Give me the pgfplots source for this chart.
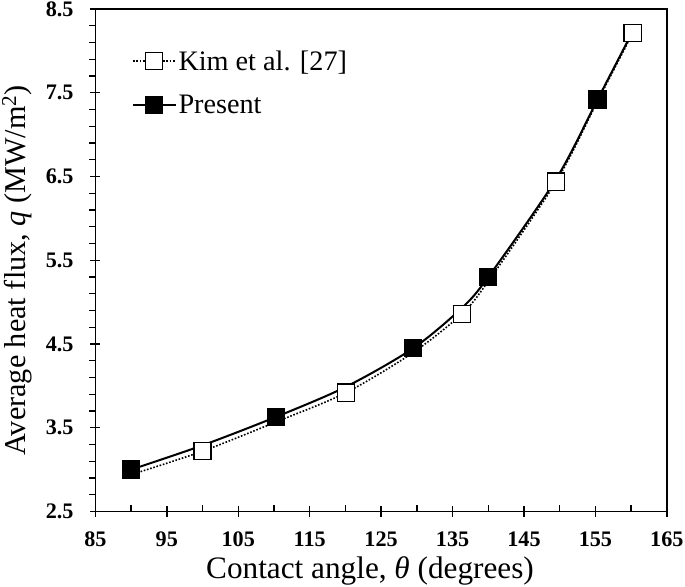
\documentclass[border=0pt]{standalone}
\usepackage{pgfplots}
\pgfplotsset{compat=1.18}
\usepackage{fontspec}
\setmainfont{Liberation Serif}
\begin{document}
\begin{tikzpicture}
\begin{axis}[
  scale only axis,
  width=567pt, height=498.5pt,
  xmin=85, xmax=165, ymin=2.5, ymax=8.5,
  xtick={85,95,...,165}, ytick={2.5,3.5,...,8.5},
  minor x tick num=1, minor y tick num=4,
  xtick pos=bottom, ytick pos=left,
  tick align=center,
  major tick length=10pt, minor tick length=6pt,
  every tick/.style={line width=1.4pt, black},
  minor x tick style={yshift=3pt},
  minor y tick style={xshift=-3pt},
  axis line style={line width=1.6pt},
  /pgf/number format/assume math mode=true,
  /pgf/number format/fixed, /pgf/number format/precision=1,
  /pgf/number format/fixed zerofill=false,
  ticklabel style={font=\fontsize{22}{22}\selectfont\bfseries, inner sep=1.5pt},
  yticklabel style={/pgf/number format/fixed zerofill=true, /pgf/number format/precision=1,
    anchor=east, xshift=-15pt},
  xticklabel style={anchor=center, yshift=-23pt},
  xlabel={Contact angle, \textit{θ} (degrees)},
  ylabel={Average heat flux, \textit{q} (MW/m\textsuperscript{2})},
  xlabel style={font=\fontsize{31}{31}\selectfont, inner sep=2pt,
    at={([xshift=-11pt,yshift=-66pt]rel axis cs:0.5,0)}, anchor=base},
  ylabel style={font=\fontsize{30}{30}\selectfont, inner sep=2pt,
    at={([xshift=-61pt,yshift=-10pt]rel axis cs:0,0.5)}, anchor=south},
  legend style={at={(0.064,0.922)}, anchor=north west, draw=none, fill=none,
    font=\fontsize{28}{28}\selectfont, row sep=19pt, inner sep=0pt,
    nodes={inner sep=2pt}},
  legend cell align=left,
  legend image code/.code={\draw[#1, mark indices={2}] plot coordinates {(0pt,0pt) (21pt,0pt) (42pt,0pt)};},
]
\addplot[black, line width=1.6pt, dash pattern=on 1.6pt off 1.7pt, smooth,
  mark=square*, mark size=8.5pt, mark options={solid, fill=white, line width=1.2pt},
  mark indices={2,4,6,8,10}]
  coordinates {(90,2.94) (100,3.22) (110.3,3.57) (120.1,3.92) (129.5,4.40) (136.3,4.86) (140,5.25) (149.5,6.44) (155.3,7.40) (160.2,8.21)};
\addlegendentry{Kim et al. [27]}
\addplot[black, line width=2pt, smooth,
  mark=square*, mark size=8.5pt, mark options={solid, fill=black, line width=1.2pt},
  mark indices={1,3,5,7,9}]
  coordinates {(90,3.00) (100,3.29) (110.3,3.63) (120.1,3.99) (129.5,4.45) (136.3,4.93) (140,5.30) (149.5,6.47) (155.3,7.42) (160.2,8.23)};
\addlegendentry{Present}
\end{axis}
\end{tikzpicture}
\end{document}
